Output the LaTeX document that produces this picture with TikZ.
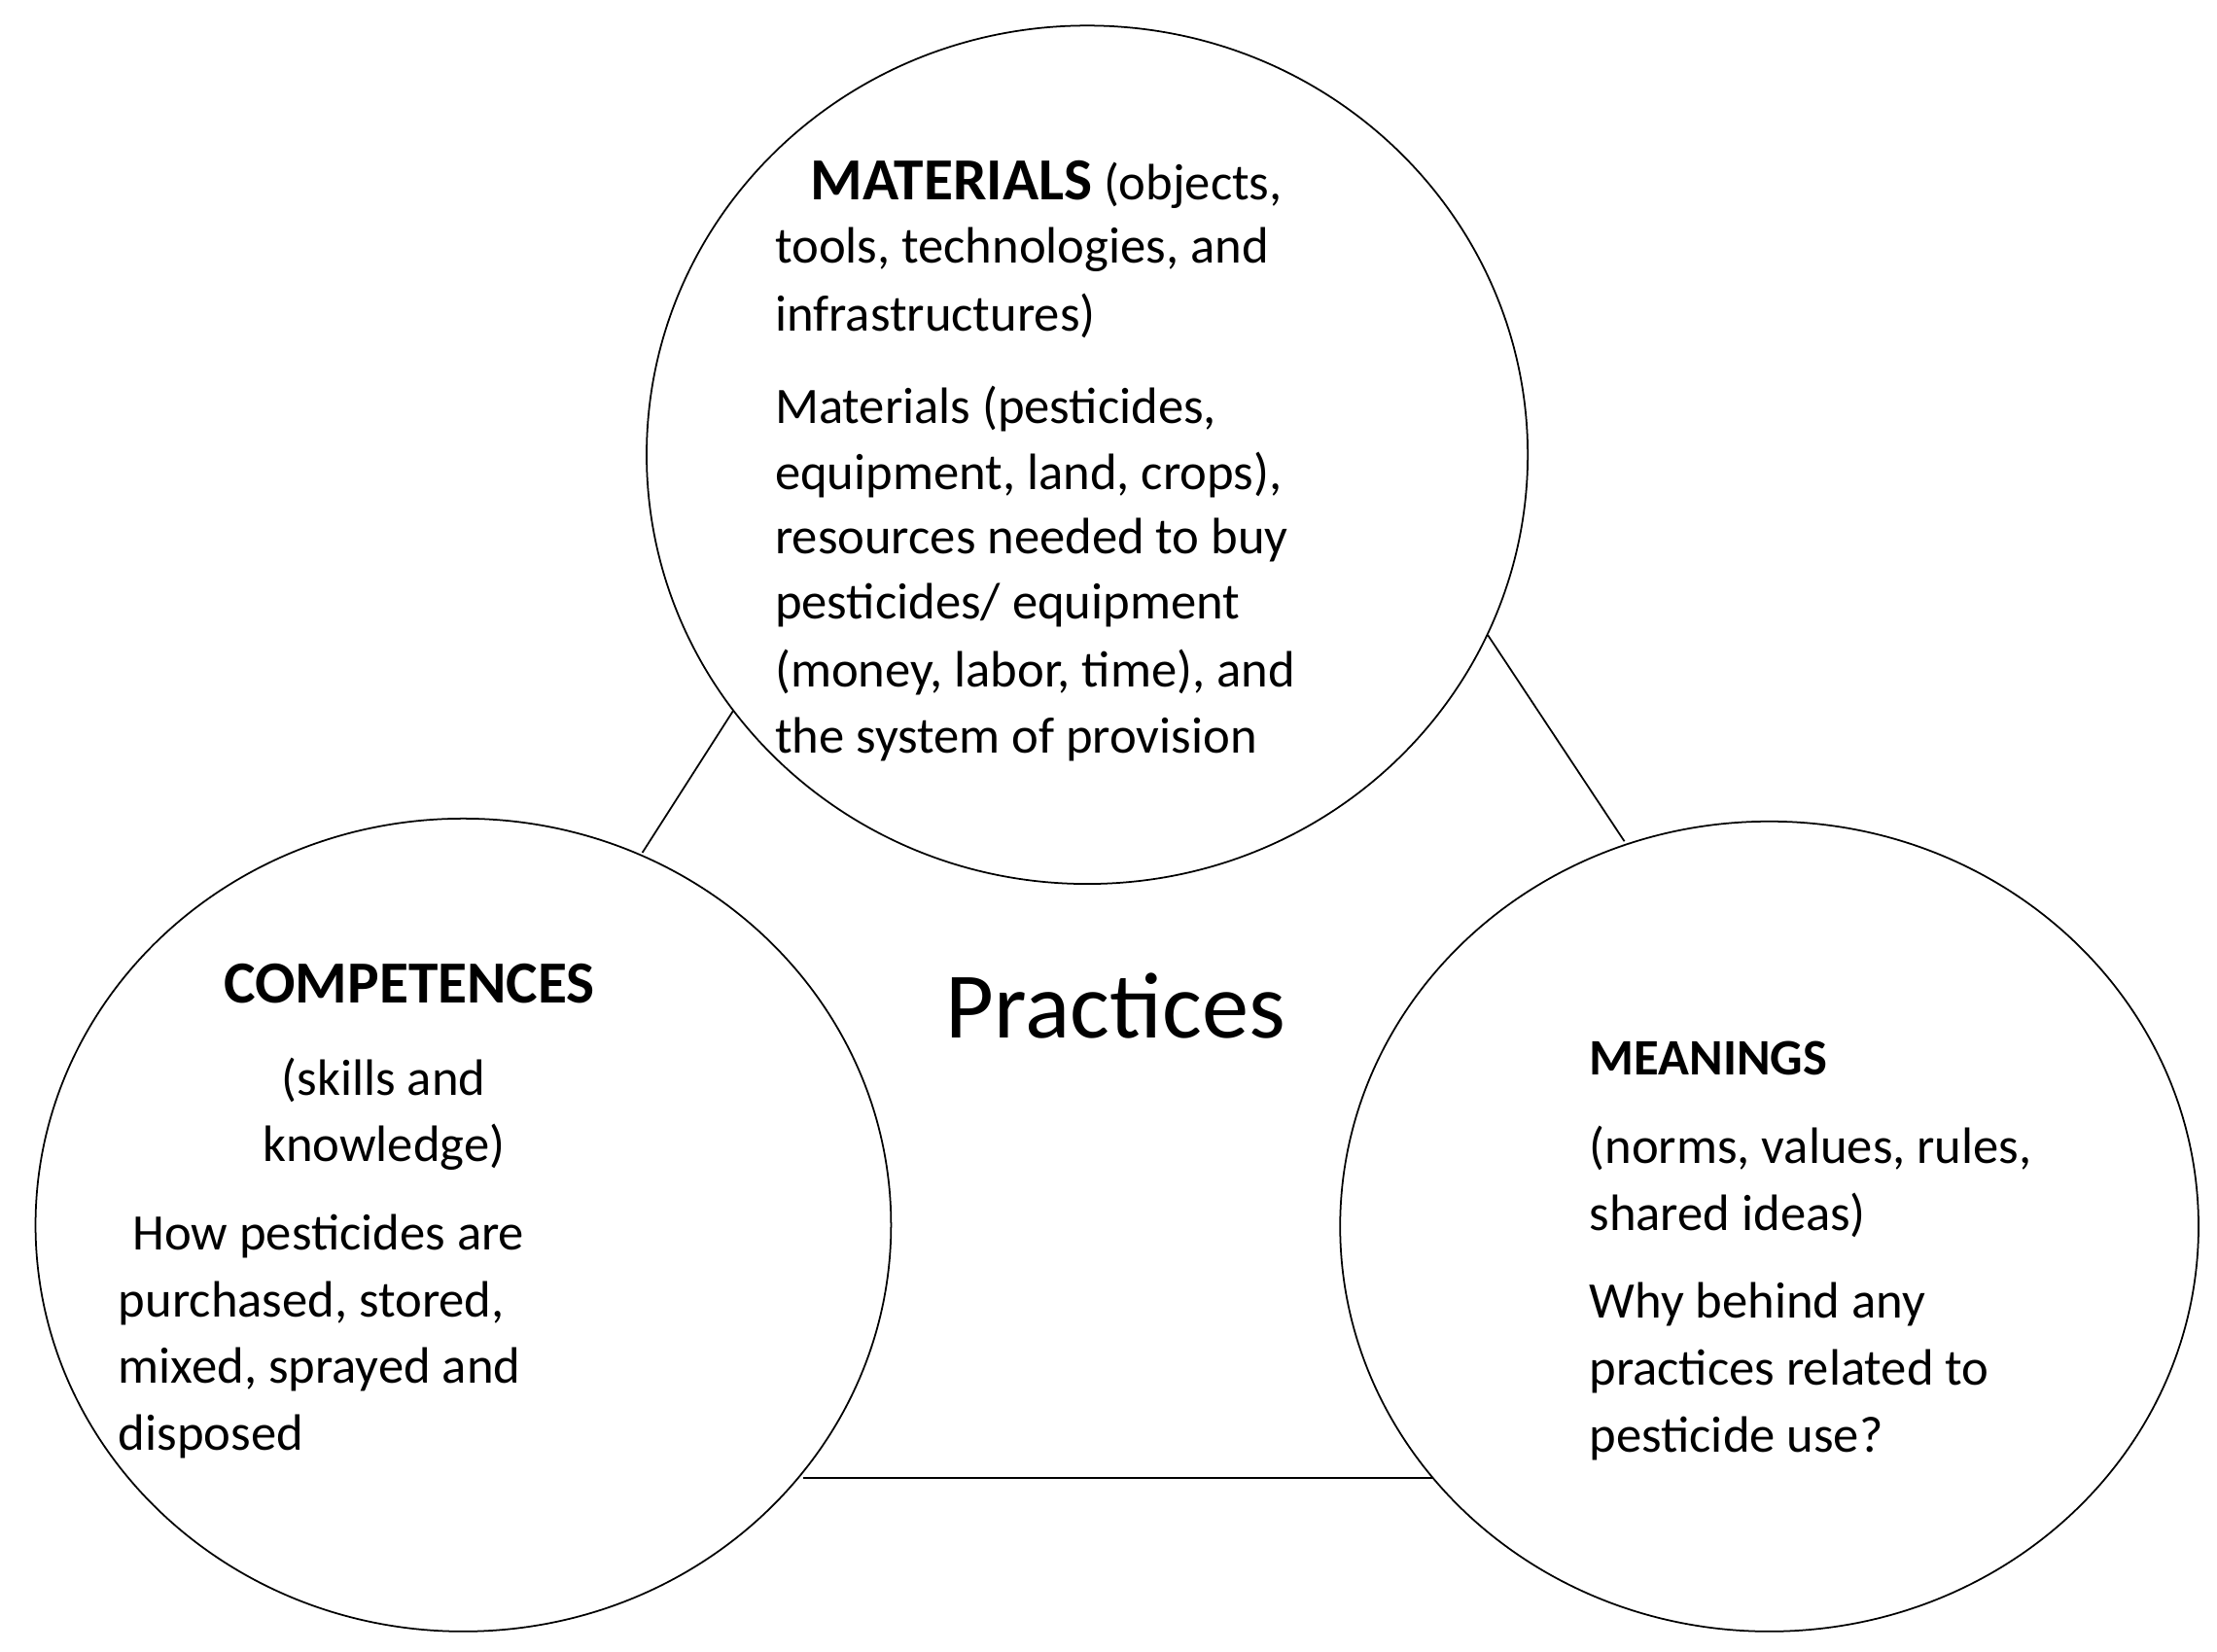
\documentclass[tikz,border=0pt]{standalone}
\usepackage{fontspec}
\setmainfont{Carlito}
\usetikzlibrary{shapes.geometric}
\begin{document}
\begin{tikzpicture}[x=0.5pt,y=-0.5pt,
  circ/.style={draw,line width=0.6pt},
  conn/.style={draw,line width=0.6pt},
  txt/.style={anchor=west,inner sep=0pt,font=\fontsize{18}{22}\selectfont},
  ctxt/.style={anchor=center,inner sep=0pt,font=\fontsize{18}{22}\selectfont},
  hd/.style={font=\fontsize{20}{24}\selectfont\bfseries}]
\useasboundingbox (0,0) rectangle (1560,1162);
\fill[white] (0,0) rectangle (1560,1162);
\draw[circ] (765,320) ellipse [x radius=310, y radius=302];
\draw[circ] (326,862) ellipse [x radius=301, y radius=286];
\draw[circ] (1245,863) ellipse [x radius=302, y radius=285];
\coordinate (a1) at (452,600); \coordinate (a2) at (516,500);
\coordinate (b1) at (1047,447); \coordinate (b2) at (1143,592);
\coordinate (c1) at (565,1040); \coordinate (c2) at (1008,1040);
\draw[conn] (a1) -- (a2);
\draw[conn] (b1) -- (b2);
\draw[conn] (c1) -- (c2);
% top
\node[txt] (m0) at (570,130) {{\fontsize{21}{24}\selectfont\bfseries MATERIALS} (objects,};
\node[txt] (m1) at (545,176) {tools, technologies, and};
\node[txt] (m2) at (545,222) {infrastructures)};
\node[txt] (m3) at (545,288) {Materials (pesticides,};
\node[txt] (m4) at (545,334) {equipment, land, crops),};
\node[txt] (m5) at (545,380) {resources needed to buy};
\node[txt] (m6) at (545,426) {pesticides/ equipment};
\node[txt] (m7) at (545,473) {(money, labor, time), and};
\node[txt] (m8) at (545,520) {the system of provision};
% left
\node[ctxt,font=\fontsize{21}{24}\selectfont\bfseries] (c0) at (288,692) {COMPETENCES};
\node[ctxt] (c1t) at (270,760) {(skills and};
\node[ctxt] (c2t) at (270,807) {knowledge)};
\node[txt] (c3t) at (93,870) {How pesticides are};
\node[txt] (c4t) at (83,917) {purchased, stored,};
\node[txt] (c5t) at (83,964) {mixed, sprayed and};
\node[txt] (c6t) at (83,1011) {disposed};
% right
\node[txt,font=\fontsize{18}{22}\selectfont\bfseries] (r0) at (1118,745) {MEANINGS};
\node[txt] (r1) at (1118,808) {(norms, values, rules,};
\node[txt] (r2) at (1118,855) {shared ideas)};
\node[txt] (r3) at (1118,918) {Why behind any};
\node[txt] (r4) at (1118,965) {practices related to};
\node[txt] (r5) at (1118,1012) {pesticide use?};
% center
\node[anchor=center,inner sep=0pt,font=\fontsize{33}{38}\selectfont] (p) at (785,708) {Practices};
\end{tikzpicture}
\end{document}
